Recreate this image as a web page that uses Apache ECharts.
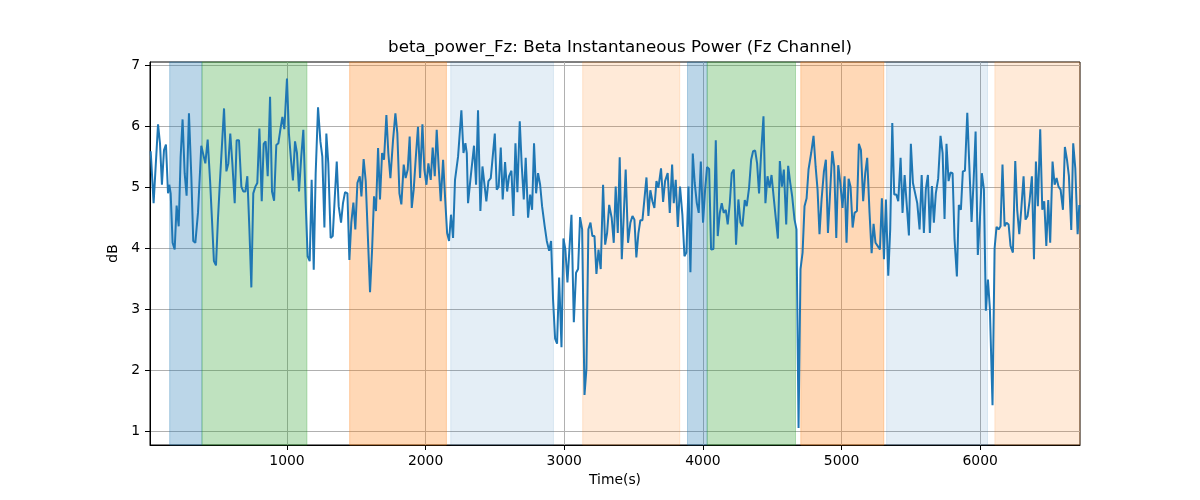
<!DOCTYPE html>
<html>
<head>
<meta charset="utf-8">
<script src="https://cdn.jsdelivr.net/npm/echarts@6/dist/echarts.min.js"></script>
<style>html,body{margin:0;padding:0;background:#fff}#c{width:1200px;height:500px}</style>
</head>
<body>
<div id="c"></div>
<script>
const timeS = [17,38,70,84,98,113,127,142,151,161,175,190,204,219,233,247,262,276,293,310,324,339,358,382,397,411,428,445,459,473,488,502,517,531,546,563,577,591,606,623,637,654,671,685,700,714,729,743,757,772,786,801,818,832,846,861,878,892,907,923,938,952,967,981,1000,1014,1029,1043,1058,1072,1087,1103,1118,
1135,1149,1164,1178,1193,1207,1224,1241,1255,1270,1284,1298,1315,1330,1344,1359,1373,1390,1404,1419,1436,1450,1464,1479,1493,1508,1525,1537,1553,1568,1582,1599,1614,1628,1642,1657,1671,1686,1700,1717,1731,1746,1765,1782,1796,1811,1825,1842,1856,1871,1885,1900,1914,1929,1945,1960,1977,1991,2006,2020,2037,2051,2066,2080,2094,2109,2126,2140,2155,2169,2183,2198,2212,
2234,2258,2273,2287,2297,2306,2321,2335,2349,2364,2378,2395,2410,2424,2438,2453,2470,2484,2499,2513,2527,2542,2556,2573,2588,2602,2619,2633,2648,2662,2679,2693,2708,2722,2739,2754,2768,2782,2797,2811,2826,2840,2859,2874,2891,2905,2919,2934,2948,2963,2980,2994,3008,3023,3037,3052,3069,3085,3100,3114,3129,3146,3160,3174,3189,3203,3218,3232,3247,3263,3280,3295,3309,3324,
3342,3357,3371,3386,3400,3415,3429,3443,3460,3477,3492,3506,3520,3535,3549,3564,3578,3593,3607,3621,3636,3650,3665,3679,3698,3713,3727,3746,3761,3778,3790,3804,3819,3835,3852,3867,3881,3896,3910,3927,3941,3956,3970,3985,4001,4016,4030,4045,4059,4076,4093,4107,4122,4136,4150,4165,4179,4194,4208,4223,4239,4256,4271,4285,4302,4316,4333,4348,4362,4377,4391,4405,4420,4437,4451,4466,
4481,4495,4510,4524,4541,4555,4570,4584,4601,4615,4630,4644,4661,4675,4690,4704,4719,4733,4748,4762,4781,4798,4813,4827,4841,4856,4873,4887,4902,4916,4933,4947,4962,4976,4991,5007,5022,5036,5051,5065,5080,5094,5111,5125,5140,5156,5171,5185,5202,5217,5231,5245,5260,5277,5291,5306,5320,5337,5351,5366,5380,5395,5409,5426,5440,5455,5469,5486,5500,5515,5529,5546,5563,
5578,5594,5608,5623,5637,5652,5666,5680,5697,5714,5729,5743,5757,5772,5786,5801,5815,5832,5846,5861,5875,5890,5907,5921,5938,5952,5967,5983,5998,6012,6027,6041,6056,6070,6089,6104,6118,6133,6147,6161,6176,6190,6205,6219,6236,6253,6267,6282,6296,6313,6327,6342,6356,6373,6388,6402,6416,6433,6448,6462,6477,6491,6505,6522,6537,6551,6565,6580,6597,6611,6626,6640,6657,6671,6686,6703,6715];
const powerDb = [5.59,4.74,6.03,5.72,5.04,5.61,5.70,4.90,5.04,4.90,4.09,3.98,4.70,4.36,5.50,6.11,5.23,4.86,6.21,5.18,4.12,4.09,4.58,5.68,5.53,5.39,5.78,5.12,4.47,3.79,3.72,4.47,5.12,5.12,6.29,5.26,5.39,5.88,5.39,4.74,5.77,5.77,5.01,4.93,4.93,5.18,4.31,3.36,4.90,5.01,5.07,5.96,4.77,5.71,5.75,5.18,6.48,4.93,4.78,5.69,5.72,5.94,6.15,5.95,6.78,5.88,5.45,5.11,5.75,5.56,4.93,5.50,5.94,
4.74,3.87,3.79,5.12,3.65,5.23,6.31,5.75,5.50,4.34,5.88,5.39,4.17,4.20,4.80,5.42,4.69,4.42,4.74,4.92,4.90,3.81,4.42,4.75,4.31,5.07,5.18,4.85,5.46,5.10,5.10,3.28,3.98,4.85,4.61,5.64,4.80,5.56,5.45,6.18,5.56,5.15,5.77,6.21,5.88,4.90,4.72,5.37,5.15,5.29,5.83,4.66,4.96,5.48,5.99,5.15,6.03,5.29,5.04,5.39,5.12,5.65,5.18,5.94,5.34,4.77,5.45,4.85,4.25,4.12,4.55,4.17,5.12,
5.50,6.26,5.56,5.72,5.56,4.74,5.08,5.07,5.68,5.04,6.26,4.61,5.34,5.37,4.77,5.10,5.15,5.50,5.88,4.96,5.01,5.65,4.80,5.41,4.93,5.18,5.27,4.53,5.72,4.92,6.08,5.37,4.80,5.48,4.50,4.88,4.63,5.72,4.90,5.23,5.04,4.69,4.36,4.12,3.96,4.12,3.17,2.52,2.44,3.52,2.38,4.16,3.98,3.44,3.98,4.55,2.79,3.60,3.66,4.51,4.31,1.60,2.03,4.31,4.42,4.20,4.20,3.58,3.98,3.66,5.04,4.06,4.25,4.71,
4.50,4.09,5.01,4.25,5.49,3.82,4.53,5.29,4.09,4.42,4.53,4.47,3.85,4.25,4.46,4.46,4.44,5.16,4.53,4.95,4.77,4.66,5.10,4.99,5.31,4.76,5.10,5.23,4.58,5.37,4.74,5.12,4.35,5.01,4.55,3.87,3.93,5.01,3.61,5.55,5.07,4.74,4.58,5.42,4.42,4.96,5.33,5.30,3.98,3.99,5.77,4.20,4.58,4.74,4.58,4.63,4.39,4.74,5.23,5.29,4.06,4.80,4.42,4.36,4.79,4.69,4.99,5.45,5.59,5.60,5.39,4.90,5.56,6.16,4.74,5.18,
4.99,5.20,4.85,4.53,4.16,5.43,5.01,5.29,4.39,5.35,5.07,4.85,4.47,4.31,1.06,3.66,3.93,4.69,4.82,5.29,5.56,5.84,5.34,4.96,4.23,4.80,5.26,5.45,4.25,4.85,5.59,5.34,4.17,5.36,5.07,4.66,5.18,4.09,5.14,5.01,4.34,4.58,4.61,5.71,5.61,4.77,5.23,5.48,4.58,3.92,4.40,4.09,4.04,3.98,4.82,3.82,4.80,3.55,4.31,6.05,4.88,4.88,4.77,5.48,4.58,5.20,5.19,4.21,5.71,5.07,5.06,4.74,4.31,
5.20,4.25,4.97,5.20,4.25,5.02,4.42,4.90,5.14,5.84,5.56,4.48,5.71,5.10,5.24,5.23,4.15,3.54,4.71,4.63,5.26,5.27,6.22,5.39,4.43,5.07,5.91,3.89,4.47,5.23,4.96,2.98,3.49,3.01,1.43,4.00,4.35,4.31,4.36,5.37,4.36,4.42,4.39,4.04,3.93,5.43,4.63,4.23,4.63,5.18,4.47,4.53,4.77,5.18,3.82,5.42,4.69,5.95,4.63,4.77,4.04,4.79,4.09,5.42,5.04,5.15,5.01,4.96,4.63,5.66,5.45,5.18,4.30,5.72,5.31,4.23,4.71];

const bandStart = [154, 387, 1452, 2181, 3133, 3889, 4031, 4706, 5325, 6106];
const bandEnd   = [387, 1144, 2150, 2922, 3833, 4031, 4668, 5305, 6053, 6720];
const bandKind  = ['blue','green','orange','lightblue','lightorange','blue','green','orange','lightblue','lightorange'];
const xTicks = [1000, 2000, 3000, 4000, 5000, 6000];
const yTicks = [1, 2, 3, 4, 5, 6, 7];

const bandColors = {
  blue: 'rgba(31,119,180,0.3)',
  green: 'rgba(44,160,44,0.3)',
  orange: 'rgba(255,127,14,0.3)',
  lightblue: 'rgba(31,119,180,0.12)',
  lightorange: 'rgba(255,127,14,0.16)'
};

const lineData = timeS.map((t, i) => [t, powerDb[i]]);
const areas = bandStart.map((s, i) => [
  { xAxis: s, itemStyle: { color: bandColors[bandKind[i]], borderColor: bandColors[bandKind[i]], borderWidth: 1 } },
  { xAxis: bandEnd[i] }
]);

const FONT = 'DejaVu Sans';
const chart = echarts.init(document.getElementById('c'), null, { renderer: 'canvas' });
chart.setOption({
  animation: false,
  backgroundColor: '#fff',
  title: {
    text: 'beta_power_Fz: Beta Instantaneous Power (Fz Channel)',
    left: 615, top: 34, textAlign: 'center',
    textStyle: { fontFamily: FONT, fontSize: 16.7, fontWeight: 'normal', color: '#000' }
  },
  grid: { left: 150, right: 120, top: 62, bottom: 55, show: true, borderColor: '#000', borderWidth: 1, backgroundColor: 'transparent' },
  xAxis: {
    type: 'value', min: 12, max: 6720,
    name: 'Time(s)', nameLocation: 'middle', nameGap: 28,
    nameTextStyle: { fontFamily: FONT, fontSize: 13.9, color: '#000' },
    axisLine: { show: true, onZero: false, lineStyle: { color: '#000', width: 1 } },
    axisTick: { show: true, length: 5, customValues: xTicks, lineStyle: { color: '#000' } },
    axisLabel: { customValues: xTicks, margin: 9, fontFamily: FONT, fontSize: 13.9, color: '#000', formatter: v => String(v) },
    splitLine: { show: true, lineStyle: { color: '#b0b0b0', width: 1 } }
  },
  yAxis: {
    type: 'value', min: 0.78, max: 7.05,
    name: 'dB', nameLocation: 'middle', nameGap: 25, nameRotate: 90,
    nameTextStyle: { fontFamily: FONT, fontSize: 13.9, color: '#000' },
    axisLine: { show: true, onZero: false, lineStyle: { color: '#000', width: 1 } },
    axisTick: { show: true, length: 5, customValues: yTicks, lineStyle: { color: '#000' } },
    axisLabel: { customValues: yTicks, margin: 10, fontFamily: FONT, fontSize: 13.9, color: '#000', formatter: v => String(v) },
    splitLine: { show: true, lineStyle: { color: '#b0b0b0', width: 1 } }
  },
  series: [
    {
      type: 'line', data: [], z: -1, silent: true,
      markArea: { silent: true, data: areas }
    },
    {
      type: 'line', data: lineData, showSymbol: false, z: 3,
      lineStyle: { color: '#1f77b4', width: 2 }, itemStyle: { color: '#1f77b4' }
    }
  ]
});
</script>
</body>
</html>
